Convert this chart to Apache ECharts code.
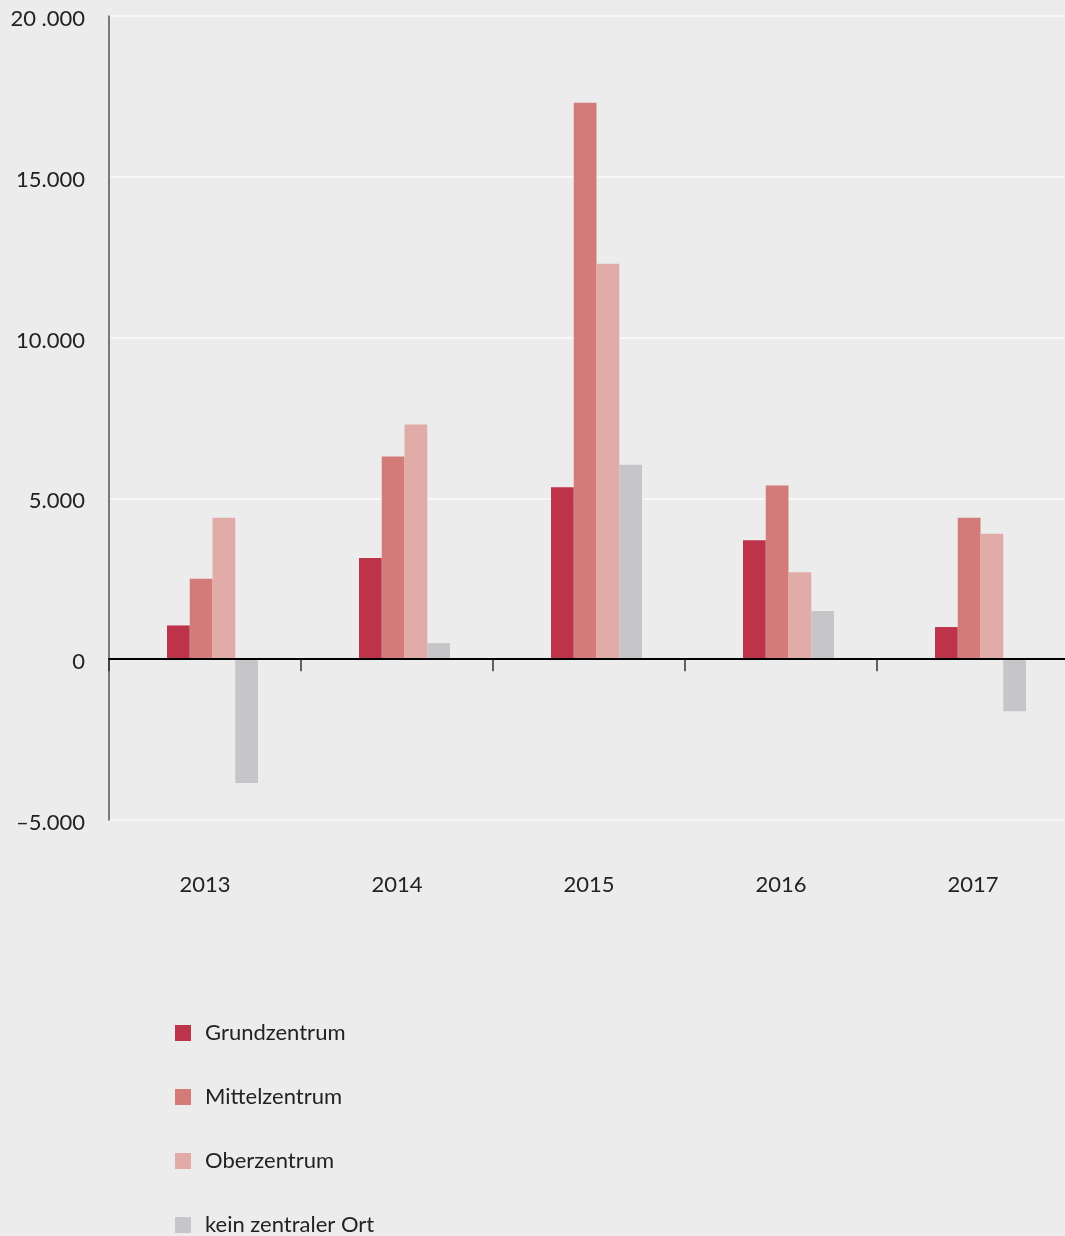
<!DOCTYPE html>
<html><head><meta charset="utf-8">
<script src="https://cdn.jsdelivr.net/npm/echarts@6/dist/echarts.min.js"></script>
<style>html,body{margin:0;padding:0;background:#ececec}#chart{width:1065px;height:1236px}</style>
</head><body><div id="chart"></div>
<script>
const categories = ['2013', '2014', '2015', '2016', '2017'];
const grundzentrum = [1050, 3150, 5350, 3700, 1000];
const mittelzentrum = [2500, 6300, 17300, 5400, 4400];
const oberzentrum = [4400, 7300, 12300, 2700, 3900];
const keinZentralerOrt = [-3850, 500, 6050, 1500, -1620];
const yTickValues = [-5000, 0, 5000, 10000, 15000, 20000];
const yTickLabels = ['\u20135.000', '0', '5.000', '10.000', '15.000', '20 .000'];
const seriesNames = ['Grundzentrum', 'Mittelzentrum', 'Oberzentrum', 'kein zentraler Ort'];
const seriesValues = [grundzentrum, mittelzentrum, oberzentrum, keinZentralerOrt];
const colors = ['#bd334a', '#d27b79', '#e1aba7', '#c6c6c8'];

const FONT = 'Lato';
const chart = echarts.init(document.getElementById('chart'), null, {renderer: 'canvas'});

const series = [{
  // empty spacer slot (the original leaves an empty slot before the first bar)
  type: 'bar', name: '_spacer', data: [], barWidth: 15, barGap: '0%', silent: true
}].concat(seriesNames.map((n, i) => ({
  type: 'bar', name: n, data: seriesValues[i], barWidth: 22.75, barGap: '0%',
  itemStyle: {color: colors[i]}, silent: true
})));

chart.setOption({
  backgroundColor: '#ececec',
  animation: false,
  textStyle: {fontFamily: FONT},
  grid: {left: 109, top: 16, width: 960, height: 804, containLabel: false, outerBoundsMode: 'none'},
  xAxis: {
    type: 'category', data: categories, z: 5,
    axisLine: {show: true, onZero: true, lineStyle: {color: '#000', width: 2}},
    axisTick: {show: true, length: 12, lineStyle: {color: '#333', width: 1.5}},
    axisLabel: {margin: 54, fontSize: 22, color: '#222', fontFamily: FONT},
    splitLine: {show: false}
  },
  yAxis: {
    type: 'value', min: -5000, max: 20000, interval: 5000,
    axisLine: {show: true, lineStyle: {color: '#555', width: 1.5}},
    axisTick: {show: false},
    splitLine: {show: true, lineStyle: {color: '#fbfbfb', width: 1.5}},
    axisLabel: {
      margin: 24, fontSize: 22, color: '#222', fontFamily: FONT,
      formatter: v => { const k = yTickValues.indexOf(v); return k >= 0 ? '{t|' + yTickLabels[k] + '}' : ''; },
      rich: {t: {fontSize: 22, color: '#222', fontFamily: FONT, padding: [6, 0, 0, 0]}}
    }
  },
  legend: {
    data: seriesNames, orient: 'vertical', left: 175, top: 1022, height: 260, padding: 0,
    itemWidth: 16, itemHeight: 16, itemGap: 42, icon: 'rect', selectedMode: false,
    textStyle: {fontSize: 22, color: '#222', fontFamily: FONT, padding: [0, 0, 0, 9]}
  },
  series: series
});
</script></body></html>
